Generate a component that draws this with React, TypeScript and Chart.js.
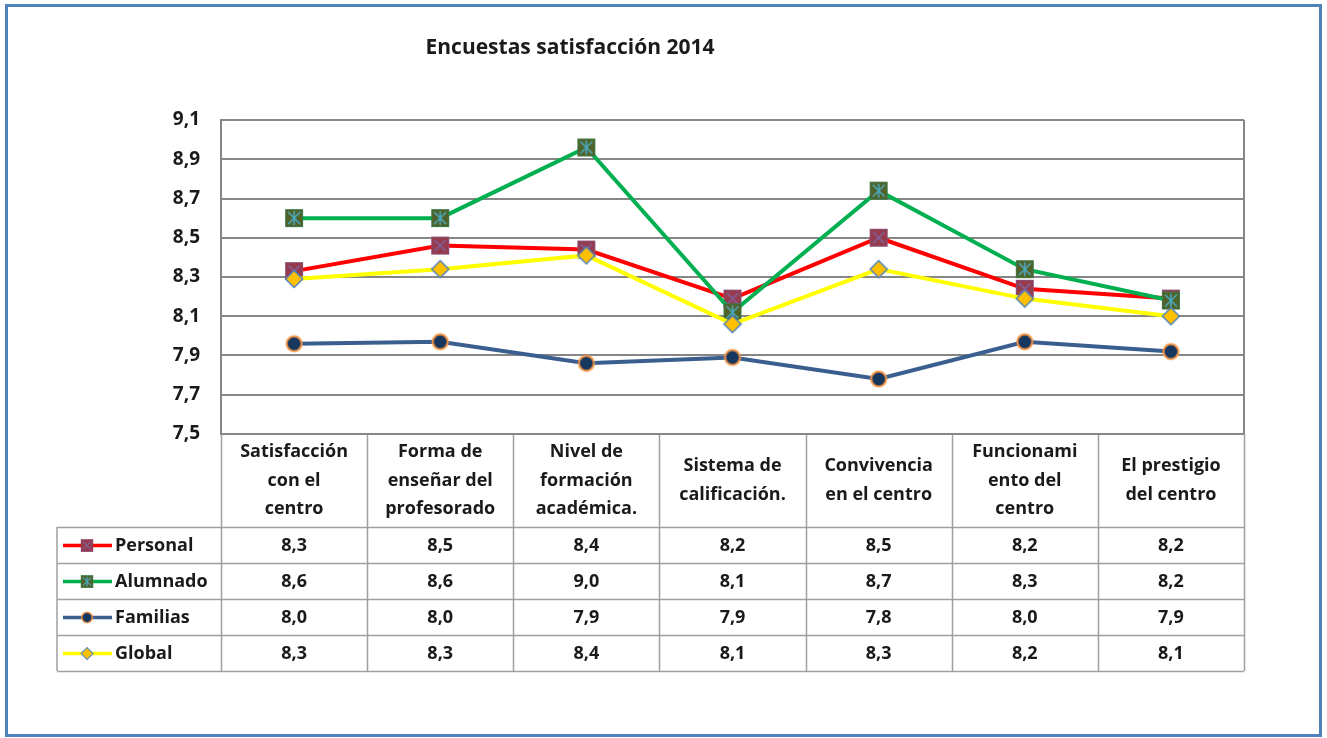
import React, { useEffect, useRef } from "react";
import { Chart, registerables } from "chart.js";

Chart.register(...registerables);

const TITLE = "Encuestas satisfacción 2014";

const categories: string[][] = [
  ["Satisfacción", "con el", "centro"],
  ["Forma de", "enseñar del", "profesorado"],
  ["Nivel de", "formación", "académica."],
  ["Sistema de", "calificación."],
  ["Convivencia", "en el centro"],
  ["Funcionami", "ento del", "centro"],
  ["El prestigio", "del centro"],
];

const seriesNames = ["Personal", "Alumnado", "Familias", "Global"];

const personal = [8.33, 8.46, 8.44, 8.19, 8.5, 8.24, 8.19];
const alumnado = [8.6, 8.6, 8.96, 8.12, 8.74, 8.34, 8.18];
const familias = [7.96, 7.97, 7.86, 7.89, 7.78, 7.97, 7.92];
const globalScores = [8.29, 8.34, 8.41, 8.06, 8.34, 8.19, 8.1];

const Y_MIN = 7.5;
const Y_MAX = 9.1;
const Y_STEP = 0.2;

const lineColors = ["#FF0000", "#00B050", "#3A5F8F", "#FFFF00"];
const FONT = "'Open Sans', 'Noto Sans', sans-serif";
const TEXT_COLOR = "#1A1A1A";

type MarkerKind = "personal" | "alumnado" | "familias" | "global";
const markerKinds: MarkerKind[] = ["personal", "alumnado", "familias", "global"];

function makeMarker(kind: MarkerKind): HTMLCanvasElement {
  const size = 20;
  const c = document.createElement("canvas");
  c.width = size;
  c.height = size;
  const ctx = c.getContext("2d")!;
  const m = size / 2;
  if (kind === "personal") {
    ctx.fillStyle = "#953B4C";
    ctx.fillRect(1, 1, 18, 18);
    ctx.strokeStyle = "#8A4F7A";
    ctx.lineWidth = 1;
    ctx.strokeRect(1.5, 1.5, 17, 17);
    ctx.strokeStyle = "#8064A2";
    ctx.lineWidth = 1.5;
    ctx.beginPath();
    ctx.moveTo(4.5, 4.5);
    ctx.lineTo(15.5, 15.5);
    ctx.moveTo(15.5, 4.5);
    ctx.lineTo(4.5, 15.5);
    ctx.stroke();
  } else if (kind === "alumnado") {
    ctx.fillStyle = "#4F6228";
    ctx.fillRect(1, 1, 18, 18);
    ctx.strokeStyle = "#3D7A4A";
    ctx.lineWidth = 1;
    ctx.strokeRect(1.5, 1.5, 17, 17);
    ctx.strokeStyle = "#4BACC6";
    ctx.lineWidth = 1.5;
    ctx.beginPath();
    ctx.moveTo(4, 4);
    ctx.lineTo(16, 16);
    ctx.moveTo(16, 4);
    ctx.lineTo(4, 16);
    ctx.moveTo(m, 3);
    ctx.lineTo(m, 17);
    ctx.stroke();
  } else if (kind === "familias") {
    ctx.beginPath();
    ctx.arc(m, m, 7.5, 0, Math.PI * 2);
    ctx.fillStyle = "#17375E";
    ctx.fill();
    ctx.strokeStyle = "#F79646";
    ctx.lineWidth = 2;
    ctx.stroke();
  } else {
    ctx.beginPath();
    ctx.moveTo(m, 1.5);
    ctx.lineTo(size - 1.5, m);
    ctx.lineTo(m, size - 1.5);
    ctx.lineTo(1.5, m);
    ctx.closePath();
    ctx.fillStyle = "#FFC000";
    ctx.fill();
    ctx.strokeStyle = "#4F81BD";
    ctx.lineWidth = 1.5;
    ctx.stroke();
  }
  return c;
}

const fmt = (v: number) => v.toFixed(1).replace(".", ",");

export default function App() {
  const ref = useRef<HTMLCanvasElement>(null);

  useEffect(() => {
    const markers = markerKinds.map(makeMarker);
    const seriesData = [personal, alumnado, familias, globalScores];

    const tablePlugin = {
      id: "excelDataTable",
      beforeDatasetsDraw(chart: any) {
        const { ctx, chartArea } = chart;
        ctx.save();
        ctx.strokeStyle = "#868686";
        ctx.lineWidth = 2;
        ctx.beginPath();
        ctx.moveTo(chartArea.right, chartArea.top);
        ctx.lineTo(chartArea.right, chartArea.bottom);
        ctx.stroke();
        ctx.restore();
      },
      afterDraw(chart: any) {
        const { ctx, chartArea } = chart;
        const xs = chart.scales.x;
        const labels = chart.data.labels as string[][];
        const n = labels.length;
        const colW = (chartArea.right - chartArea.left) / n;
        const headerTop = chartArea.bottom;
        const headerH = 93;
        const rowH = 36;
        const rowsTop = headerTop + headerH;
        const legendLeft = 57;
        const tableBottom = rowsTop + rowH * seriesNames.length;

        ctx.save();
        // Title
        ctx.fillStyle = TEXT_COLOR;
        ctx.font = `bold 21px ${FONT}`;
        ctx.textAlign = "center";
        ctx.textBaseline = "middle";
        ctx.fillText(TITLE, 570, 48);

        // Table grid
        ctx.strokeStyle = "#A0A0A0";
        ctx.lineWidth = 1.5;
        ctx.beginPath();
        for (let i = 0; i <= n; i++) {
          const x = Math.round(chartArea.left + colW * i) + 0.5;
          ctx.moveTo(x, headerTop);
          ctx.lineTo(x, tableBottom);
        }
        ctx.moveTo(legendLeft, rowsTop);
        ctx.lineTo(legendLeft, tableBottom);
        for (let r = 0; r <= seriesNames.length; r++) {
          const y = Math.round(rowsTop + rowH * r) + 0.5;
          ctx.moveTo(legendLeft, y);
          ctx.lineTo(chartArea.right, y);
        }
        ctx.stroke();

        // Plot bottom line on top of table verticals
        ctx.strokeStyle = "#868686";
        ctx.lineWidth = 2;
        ctx.beginPath();
        ctx.moveTo(chartArea.left, chartArea.bottom);
        ctx.lineTo(chartArea.right, chartArea.bottom);
        ctx.stroke();

        // Header labels (category axis labels)
        ctx.fillStyle = TEXT_COLOR;
        ctx.font = `bold 18px ${FONT}`;
        ctx.textAlign = "center";
        ctx.textBaseline = "middle";
        const lh = 28.5;
        for (let i = 0; i < n; i++) {
          const cx = xs.getPixelForValue(i);
          const lines = labels[i];
          const cy = headerTop + headerH / 2;
          lines.forEach((t, k) => {
            ctx.fillText(t, cx, cy + (k - (lines.length - 1) / 2) * lh);
          });
        }

        // Data rows with legend keys
        seriesNames.forEach((name, r) => {
          const cy = rowsTop + rowH * r + rowH / 2 + 0.5;
          ctx.strokeStyle = lineColors[r];
          ctx.lineWidth = 3.5;
          ctx.beginPath();
          ctx.moveTo(63, cy);
          ctx.lineTo(112, cy);
          ctx.stroke();
          const mk = markers[r];
          const s = 14;
          ctx.drawImage(mk, 87 - s / 2, cy - s / 2, s, s);
          ctx.fillStyle = TEXT_COLOR;
          ctx.textAlign = "left";
          ctx.fillText(name, 115, cy);
          ctx.textAlign = "center";
          seriesData[r].forEach((v, i) => {
            ctx.fillText(fmt(v), xs.getPixelForValue(i), cy);
          });
        });
        ctx.restore();
      },
    };

    const chart = new Chart(ref.current!, {
      type: "line",
      data: {
        labels: categories as any,
        datasets: seriesData.map((d, i) => ({
          label: seriesNames[i],
          data: d,
          borderColor: lineColors[i],
          backgroundColor: lineColors[i],
          borderWidth: 4,
          pointStyle: markers[i] as any,
          pointRadius: 9,
          pointHoverRadius: 9,
          tension: 0,
          fill: false,
          order: 4 - i,
        })),
      },
      options: {
        animation: false,
        responsive: false,
        devicePixelRatio: 1,
        layout: { padding: { left: 0, right: 83, top: 120, bottom: 304 } },
        plugins: {
          legend: { display: false },
          title: { display: false },
          tooltip: { enabled: false },
        },
        scales: {
          x: {
            display: false,
            offset: true,
          },
          y: {
            min: Y_MIN,
            max: Y_MAX,
            afterFit: (s: any) => {
              s.width = 221;
            },
            ticks: {
              stepSize: Y_STEP,
              padding: 21,
              color: TEXT_COLOR,
              font: { family: FONT, size: 19, weight: "bold" },
              callback: (v: any) => fmt(Number(v)),
            },
            grid: { color: "#868686", lineWidth: 2, drawTicks: false },
            border: { display: true, color: "#868686", width: 2 },
          },
        },
      },
      plugins: [tablePlugin],
    });
    return () => chart.destroy();
  }, []);

  return (
    <div
      style={{
        position: "absolute",
        left: 0,
        top: 0,
        width: 1327,
        height: 738,
        background: "#FFFFFF",
        overflow: "hidden",
      }}
    >
      <canvas ref={ref} width={1327} height={738} style={{ display: "block" }} />
      <div
        style={{
          position: "absolute",
          left: 5,
          top: 4,
          width: 1317,
          height: 733,
          border: "3px solid #4F81BD",
          boxSizing: "border-box",
          pointerEvents: "none",
        }}
      />
    </div>
  );
}
